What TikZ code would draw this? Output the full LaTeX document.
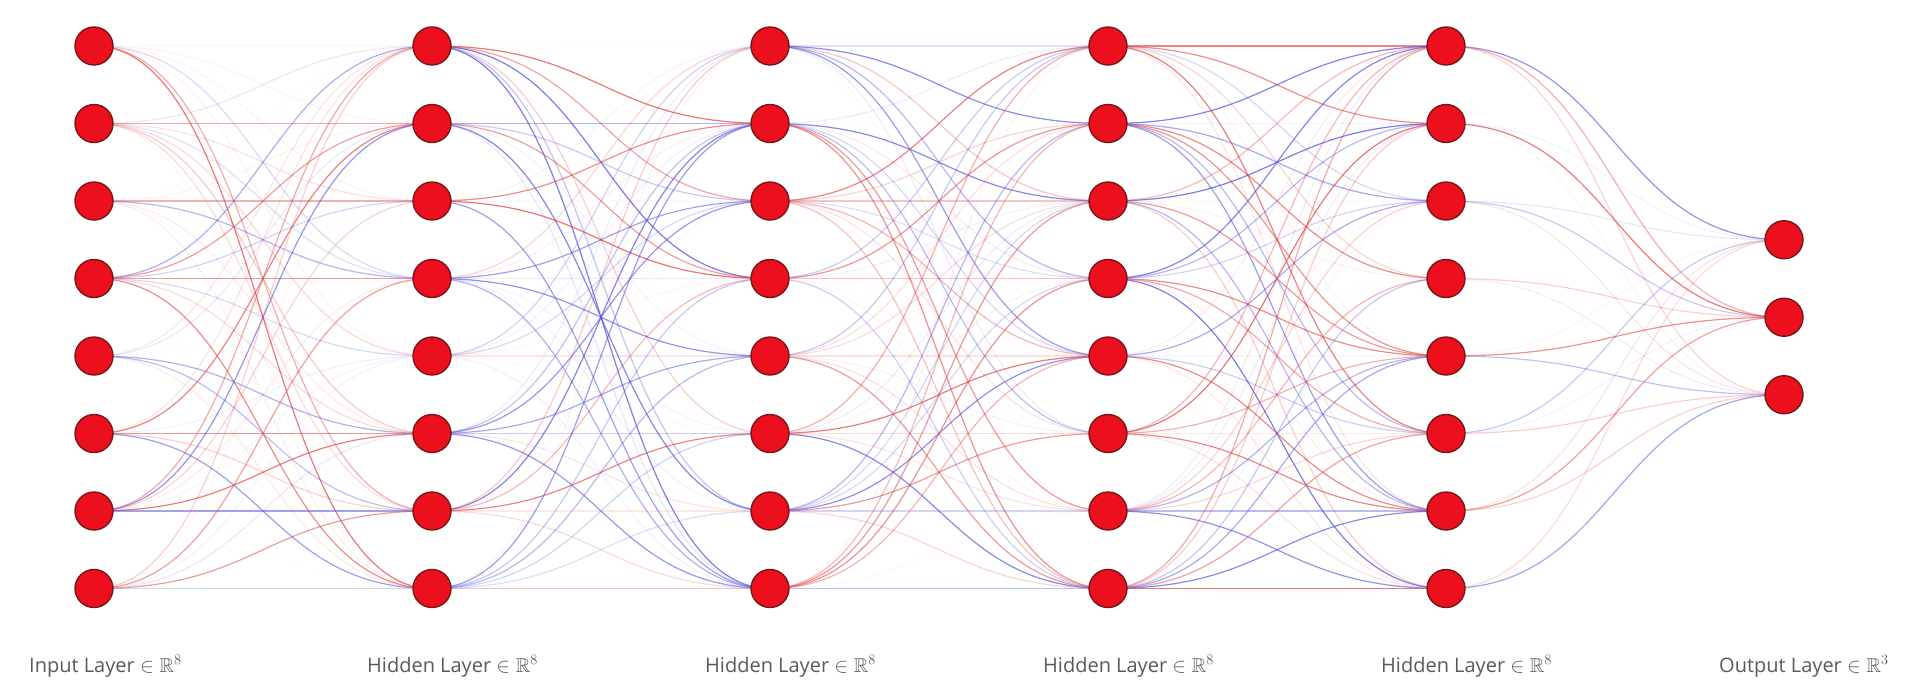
\documentclass[tikz,border=0pt]{standalone}
\usepackage{amsmath, amssymb}
\usepackage{fontspec}
\setsansfont{Open Sans}
\usepackage{tikz}
\usetikzlibrary{calc,positioning,backgrounds}
\definecolor{nn-fill}{HTML}{EC101E}
\definecolor{nn-rim}{HTML}{7A1616}
\definecolor{nn-pos}{HTML}{E04848}
\definecolor{nn-neg}{HTML}{5050D8}
\definecolor{nn-text}{HTML}{5A5A5A}

\begin{document}
\begin{tikzpicture}[x=1pt, y=-1pt,
    neuron/.style={draw=nn-rim, fill=nn-fill, circle, line width=1.4pt, minimum size=38pt, inner sep=0pt},
    edge/.style={line width=1.2pt},
    layerlabel/.style={anchor=west, text=nn-text, font=\sffamily\fontsize{20}{23}\selectfont, inner sep=0pt}]
    \useasboundingbox (0,0) rectangle (1926,683);
    \pgfmathsetseed{7}
    % neurons: input, four hidden layers, output
    \foreach \l in {0,...,4}
        \foreach \i in {1,...,8}
            \node[neuron] (n\l-\i) at ({94+338*\l}, {46+77.5*(\i-1)}) {};
    \foreach \i in {1,2,3}
        \node[neuron] (n5-\i) at (1784, {317.25+77.5*(\i-2)}) {};
    % weights, red positive and blue negative
    \begin{pgfonlayer}{background}
    \foreach \a/\b/\na/\nb in {0/1/8/8, 1/2/8/8, 2/3/8/8, 3/4/8/8, 4/5/8/3}
        \foreach \i in {1,...,\na}
            \foreach \j in {1,...,\nb} {
                \pgfmathsetmacro\w{rand}
                \pgfmathsetmacro\op{0.75*abs(\w)^1.6}
                \ifdim\w pt>0pt \def\wcol{nn-pos}\else\def\wcol{nn-neg}\fi
                \draw[edge, draw=\wcol, draw opacity=\op] (n\a-\i.center) .. controls +(169,0) and +(-169,0) .. (n\b-\j.center);
            }
    \end{pgfonlayer}
    % layer names
    \node[layerlabel] (lab0) at (29,666) {Input Layer $\in\mathbb{R}^8$};
    \foreach \l in {1,...,4}
        \node[layerlabel] (lab\l) at ({29+338*\l},666) {Hidden Layer $\in\mathbb{R}^8$};
    \node[layerlabel] (lab5) at (1719,666) {Output Layer $\in\mathbb{R}^3$};
\end{tikzpicture}
\end{document}
